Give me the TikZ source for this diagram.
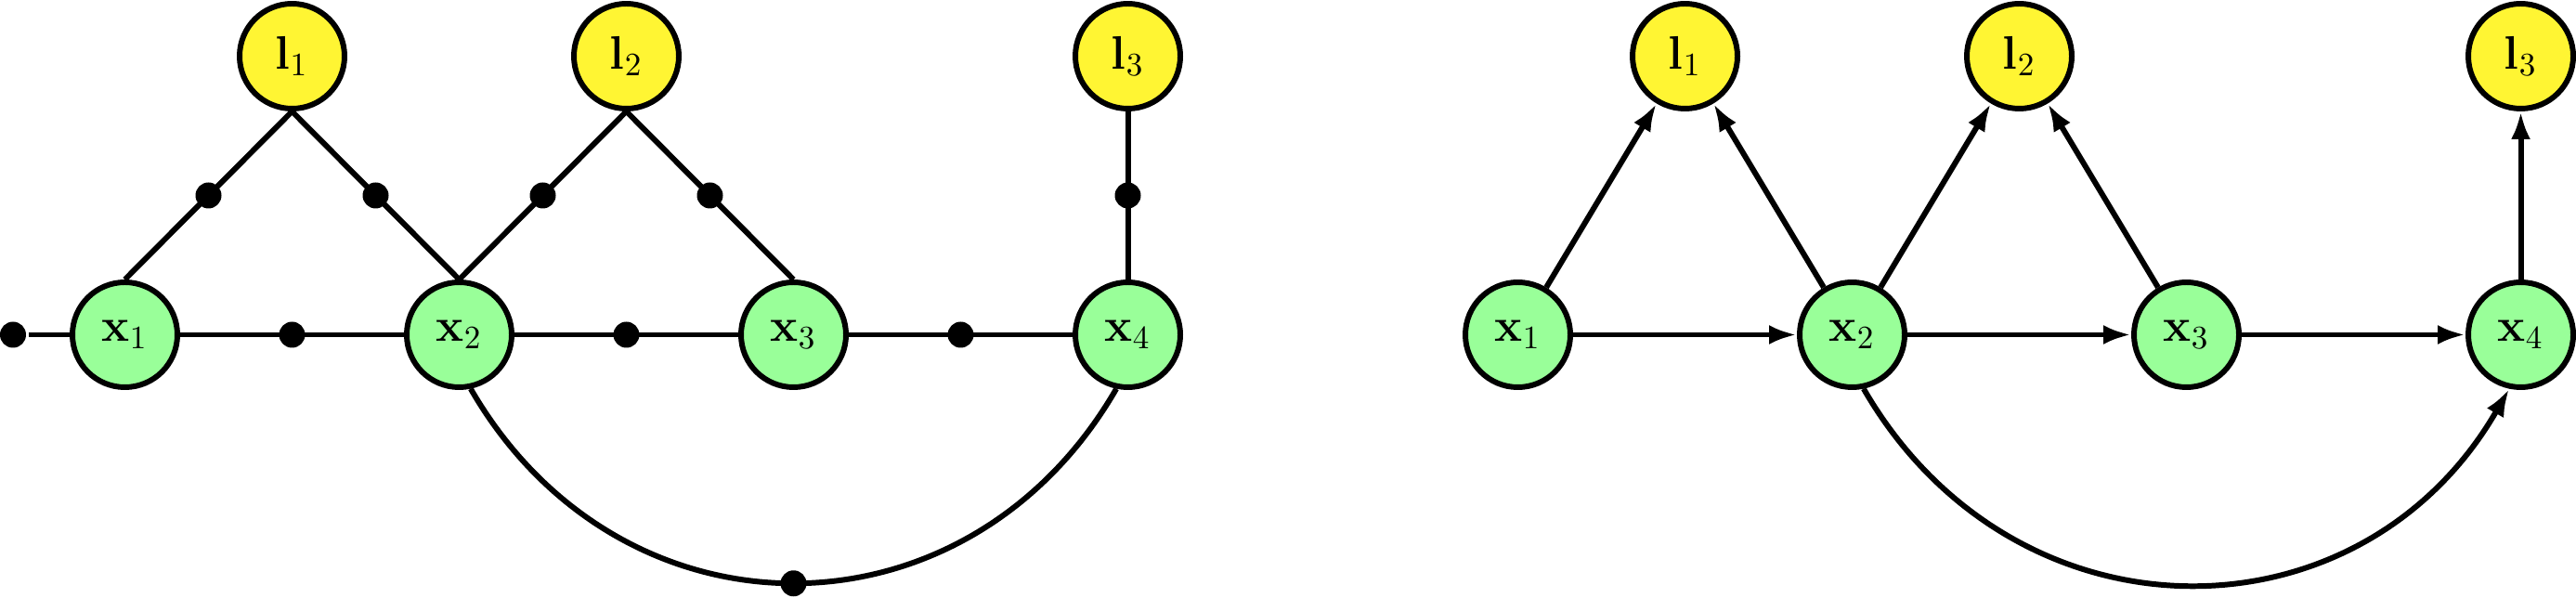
\documentclass[tikz,border=0pt]{standalone}
\usepackage{xcolor}
\colorlet{colorVar}{green!40}
\colorlet{colorLandmark}{yellow!80}
\usepackage{tikz}
\usetikzlibrary{arrows.meta, positioning}
\tikzset{
  var/.style={circle, draw, fill=colorVar, minimum size=1.13cm, inner sep=0pt},
  landmark/.style={circle, draw, fill=colorLandmark, minimum size=1.13cm, inner sep=0pt},
  factor/.style={circle, fill=black, minimum size=0.28cm, inner sep=0pt}
}

\begin{document}
\begin{tikzpicture}[>={Latex[length=0.3cm,width=0.21cm]}, line width=1.7pt, on grid, node distance=3.6cm, font=\Large]
\useasboundingbox (-1.345,-2.835) rectangle (26.395,3.605);
% factor graph
\node[var] (fx1) at (0,0) {$\mathbf{x}_1$};
\node[var, right=of fx1] (fx2) {$\mathbf{x}_2$};
\node[var, right=of fx2] (fx3) {$\mathbf{x}_3$};
\node[var, right=of fx3] (fx4) {$\mathbf{x}_4$};
\node[landmark, above right=3cm and 1.8cm of fx1] (fl1) {$\mathbf{l}_1$};
\node[landmark, above right=3cm and 1.8cm of fx2] (fl2) {$\mathbf{l}_2$};
\node[landmark, above=3cm of fx4] (fl3) {$\mathbf{l}_3$};
\node[factor, left=1.205cm of fx1] (d0) {};
\draw (d0) -- (fx1);
\draw (fx1) -- node[factor] (d12) {} (fx2);
\draw (fx2) -- node[factor] (d23) {} (fx3);
\draw (fx3) -- node[factor] (d34) {} (fx4);
\draw (fl1.south) -- node[factor] (d11) {} (fx1.north);
\draw (fl1.south) -- node[factor] (d21) {} (fx2.north);
\draw (fl2.south) -- node[factor] (d22) {} (fx2.north);
\draw (fl2.south) -- node[factor] (d32) {} (fx3.north);
\draw (fl3) -- node[factor] (d43) {} (fx4);
\draw (fx2.-78) to[out=-60, in=-120, looseness=1.19] node[factor] (d24) {} (fx4.-102);
% bayes net
\node[var, right=15cm of fx1] (bx1) {$\mathbf{x}_1$};
\node[var, right=of bx1] (bx2) {$\mathbf{x}_2$};
\node[var, right=of bx2] (bx3) {$\mathbf{x}_3$};
\node[var, right=of bx3] (bx4) {$\mathbf{x}_4$};
\node[landmark, above right=3cm and 1.8cm of bx1] (bl1) {$\mathbf{l}_1$};
\node[landmark, above right=3cm and 1.8cm of bx2] (bl2) {$\mathbf{l}_2$};
\node[landmark, above=3cm of bx4] (bl3) {$\mathbf{l}_3$};
\draw[->] (bx1) -- (bx2);
\draw[->] (bx2) -- (bx3);
\draw[->] (bx3) -- (bx4);
\draw[->] (bx1) -- (bl1);
\draw[->] (bx2) -- (bl1);
\draw[->] (bx2) -- (bl2);
\draw[->] (bx3) -- (bl2);
\draw[->] (bx4) -- (bl3);
\draw[->] (bx2.-78) to[out=-60, in=-120, looseness=1.19] (bx4.-102);
\end{tikzpicture}
\end{document}
